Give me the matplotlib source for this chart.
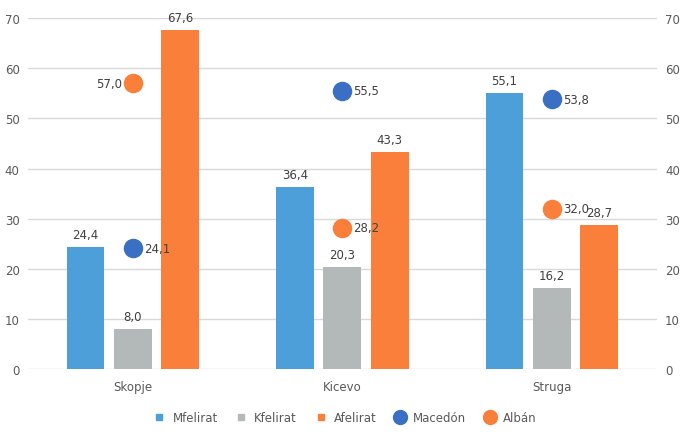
import matplotlib.pyplot as plt
import numpy as np
from matplotlib.lines import Line2D

cities = ['Skopje', 'Kicevo', 'Struga']
mfelirat = [24.4, 36.4, 55.1]
kfelirat = [8.0, 20.3, 16.2]
afelirat = [67.6, 43.3, 28.7]
macedon = [24.1, 55.5, 53.8]
alban = [57.0, 28.2, 32.0]

c_blue = '#4C9FD9'
c_gray = '#B3B9B8'
c_orange = '#FA7F3B'
c_dblue = '#3A6FC4'
txt = '#404040'

def fmt(v):
    return f'{v:.1f}'.replace('.', ',')

fig = plt.figure(figsize=(6.84, 4.35), dpi=100)
ax = fig.add_axes([0.041, 0.149, 0.919, 0.807])
x = np.arange(len(cities))
w = 0.18
off = 0.226

for vals, dx, col in [(mfelirat, -off, c_blue), (kfelirat, 0, c_gray), (afelirat, off, c_orange)]:
    bars = ax.bar(x + dx, vals, width=w, color=col, zorder=2)
    for b, v in zip(bars, vals):
        ax.text(b.get_x() + b.get_width() / 2, v + 1.2, fmt(v), ha='center', va='bottom',
                fontsize=8.5, color=txt)

ax.set_xlim(-0.5, 2.5)
ax.set_ylim(0, 70)
ax.set_yticks(range(0, 71, 10))
ax.set_xticks(x)
ax.set_xticklabels(cities)
ax.grid(axis='y', color='#D9D9D9', linewidth=1, zorder=0)
ax.set_axisbelow(True)
for s in ax.spines.values():
    s.set_visible(False)
ax.tick_params(length=0, labelsize=8.5, colors='#595959', pad=6)
ax.tick_params(axis='x', pad=8)

ax2 = ax.twinx()
ax2.set_ylim(0, 70)
ax2.set_yticks(range(0, 71, 10))
for s in ax2.spines.values():
    s.set_visible(False)
ax2.tick_params(length=0, labelsize=8.5, colors='#595959', pad=6)

ax2.scatter(x, macedon, s=170, color=c_dblue, zorder=3)
ax2.scatter(x, alban, s=170, color=c_orange, zorder=3)
for i in range(len(cities)):
    ax2.annotate(fmt(macedon[i]), (x[i], macedon[i]), xytext=(8, 0), textcoords='offset points',
                 ha='left', va='center', fontsize=8.5, color=txt)
    if i == 0:
        ax2.annotate(fmt(alban[i]), (x[i], alban[i]), xytext=(-8, 0), textcoords='offset points',
                     ha='right', va='center', fontsize=8.5, color=txt)
    else:
        ax2.annotate(fmt(alban[i]), (x[i], alban[i]), xytext=(8, 0), textcoords='offset points',
                     ha='left', va='center', fontsize=8.5, color=txt)

handles = [
    Line2D([], [], marker='s', linestyle='', color=c_blue, markersize=5),
    Line2D([], [], marker='s', linestyle='', color=c_gray, markersize=5),
    Line2D([], [], marker='s', linestyle='', color=c_orange, markersize=5),
    Line2D([], [], marker='o', linestyle='', color=c_dblue, markersize=10),
    Line2D([], [], marker='o', linestyle='', color=c_orange, markersize=10),
]
labels = ['Mfelirat', 'Kfelirat', 'Afelirat', 'Macedón', 'Albán']
fig.legend(handles, labels, loc='center', bbox_to_anchor=(0.5, 0.038), ncol=5, frameon=False,
           fontsize=8.5, handletextpad=0.1, columnspacing=1.0, labelcolor='#595959')

fig.savefig('out.png', dpi=100)
